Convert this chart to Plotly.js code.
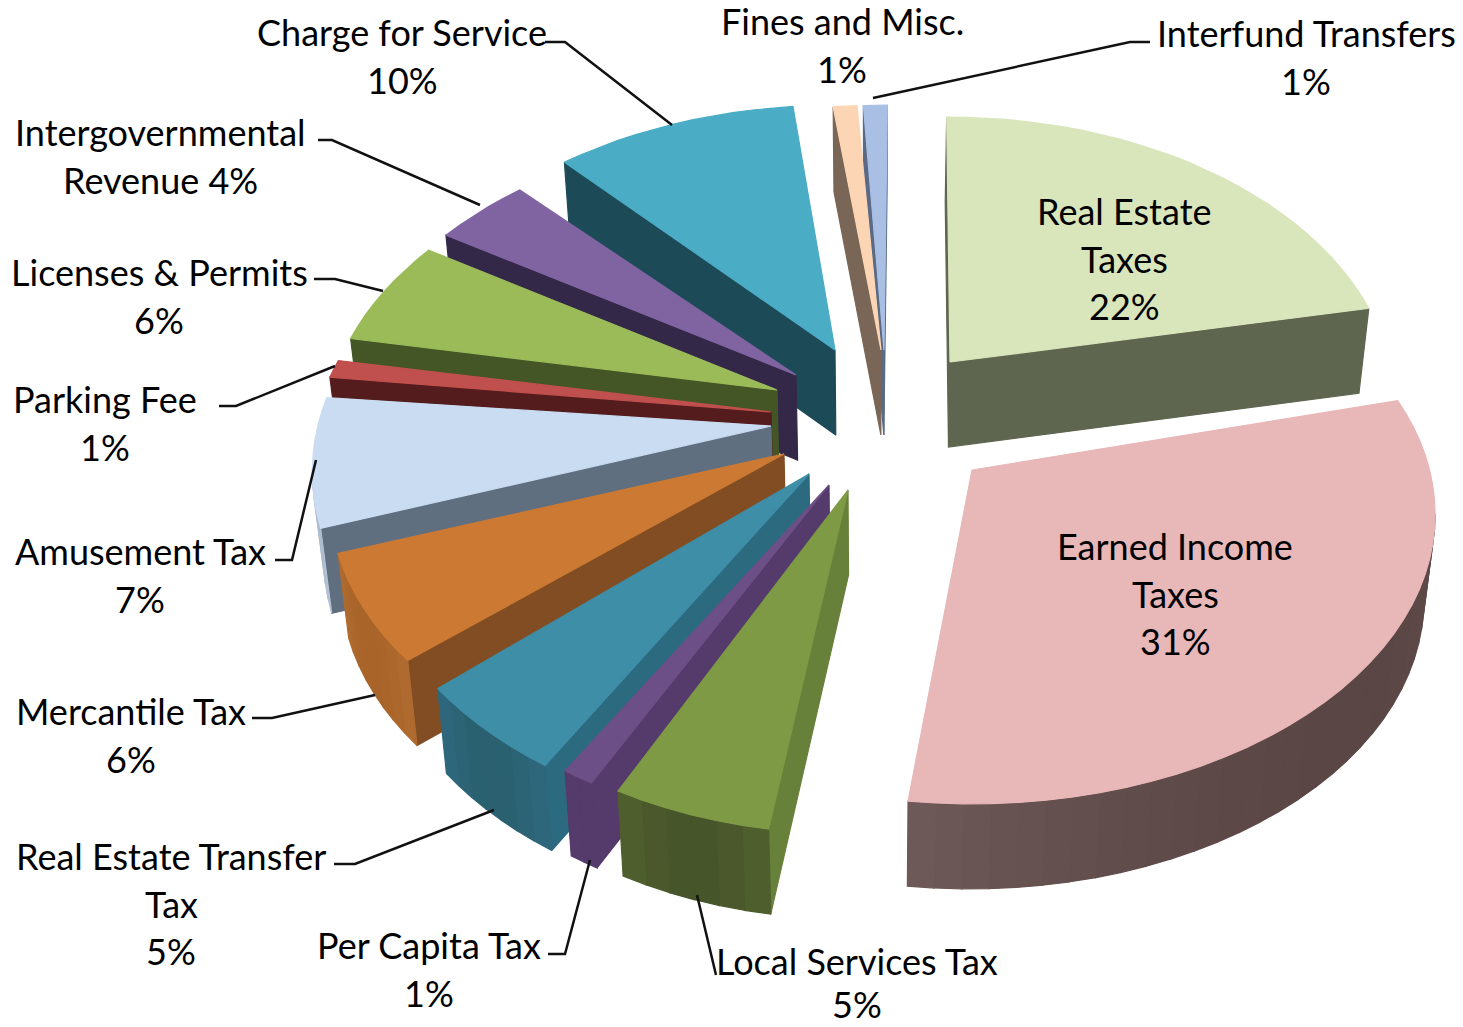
<!DOCTYPE html>
<html><head><meta charset="utf-8">
<script src="https://cdn.plot.ly/plotly-3.0.1.min.js"></script>
<style>html,body{margin:0;padding:0;background:#fff}#c{width:1463px;height:1027px}</style></head>
<body><div id="c"></div>
<script>
// Data
const categories=["Real Estate Taxes","Earned Income Taxes","Local Services Tax","Per Capita Tax","Real Estate Transfer Tax","Mercantile Tax","Amusement Tax","Parking Fee","Licenses & Permits","Intergovernmental Revenue","Charge for Service","Fines and Misc.","Interfund Transfers"];
const shares=[22,31,5,1,5,6,7,1,6,4,10,1,1];
// Look of each slice
const topColors=["#d9e5bb","#e8b7b7","#7e9a45","#6d4f87","#3e8ea8","#cc7a33","#c9dcf2","#c0504d","#9bbb59","#8064a2","#4bacc6","#fcd5b5","#a9bfe4"];
const radialWall=["#5f6650","#5c4745","#67803a","#553a6c","#2c6a80","#824d22","#606f80","#541c1c","#455626","#342848","#1d4a57","#7a6656","#5a6a85"];
const arcWall=["#5f6650","#5a4644","#47552a","#553a6c","#2a6070","#a9642a","#aebcce","#541c1c","#455626","#342848","#1d4a57","#7a6656","#5a6a85"];
const arcWallEdge=["#5f6650","#6e5a58","#52622e","#553a6c","#2f6a80","#b06c30","#b6c4d6","#541c1c","#455626","#342848","#1d4a57","#7a6656","#5a6a85"];
// Exploded apex of each slice on the page, and how it sits in the view
const apexX=[950,972,848,829,809,784,771,771,777,796,835,881,884];
const apexY=[362,470,490,485,474,454,426,412,390,375,350,350,350];
const tilt=[-0.5,-4,-2,-1,-1,-1.5,-1.5,0,0,0,1,0,0.5];
const scaleX=[1,1.04,1,1,1,1.02,1.03,1.03,1.015,1.02,1.02,1,1];
const scaleY=[1,1,1.03,1.03,1.05,1,1.03,1,1,1,1,1,1];
const drawOrder=[0,12,11,10,9,8,7,6,5,4,3,2,1];
const R=440,K=0.154,S=0.642,DEPTH=85,LOWER=0.98,CX=875;
// Label lines: [x, first line centre y, line step, lines]
const labels=[
[1124,211,47.5,["Real Estate","Taxes","22%"]],
[1175,546,47.5,["Earned Income","Taxes","31%"]],
[857,961,43,["Local Services Tax","5%"]],
[429,945,47.5,["Per Capita Tax","1%"]],
[171,856,47.5,["Real Estate Transfer","Tax","5%"]],
[131,711,47.5,["Mercantile Tax","6%"]],
[140,551,47.5,["Amusement Tax","7%"]],
[105,399,47.5,["Parking Fee","1%"]],
[159,272,47.5,["Licenses & Permits","6%"]],
[160,132,47.5,["Intergovernmental","Revenue 4%"]],
[402,32,47.5,["Charge for Service","10%"]],
[842,21,47.5,["Fines and Misc.","1%"]],
[1306,33,47.5,["Interfund Transfers","1%"]]
];
const leaders=[
"M545,42 L565,42 L672,125","M318,140 L332,140 L480,205","M314,279 L335,279 L383,291","M219,406 L236,406 L335,366",
"M275,560 L292,560 L316,460","M252,718 L272,718 L375,695","M334,864 L355,864 L494,810","M548,954 L565,954 L590,860",
"M697,895 L716,975","M873,98 L1130,42 L1150,42"];

function project(i,t){
  const a=(t+tilt[i])*Math.PI/180,x=Math.sin(a),y=Math.cos(a),d=1+K*y;
  return [apexX[i]+R*scaleX[i]*x/d, apexY[i]-R*S*scaleY[i]*y/d];
}
function poly(pts,color){
  return {type:"scatter",mode:"lines",x:pts.map(p=>p[0]).concat(pts[0][0]),y:pts.map(p=>p[1]).concat(pts[0][1]),
    fill:"toself",fillcolor:color,line:{color:color,width:1.2},hoverinfo:"skip",showlegend:false};
}
function mix(c1,c2,u){
  const h=(c,k)=>parseInt(c.substr(1+2*k,2),16);
  return "rgb("+[0,1,2].map(k=>Math.round(h(c1,k)+(h(c2,k)-h(c1,k))*u)).join(",")+")";
}
const total=shares.reduce((a,b)=>a+b,0);
let cum=0;const spans=shares.map(v=>{const s=[cum/total*360,(cum+v)/total*360];cum+=v;return s;});
const lower=p=>[CX+(p[0]-CX)*LOWER,p[1]+DEPTH];
const traces=[];
drawOrder.forEach(i=>{
  const [t0,t1]=spans[i],n=Math.max(2,Math.ceil((t1-t0)/3));
  const arc=[];for(let j=0;j<=n;j++)arc.push(project(i,t0+(t1-t0)*j/n));
  const apex=[apexX[i],apexY[i]];
  const wall=(a,b,c)=>{ if(b[0]<a[0]) traces.push(poly([a,b,lower(b),lower(a)],c)); };
  wall(apex,arc[0],radialWall[i]);
  wall(arc[n],apex,radialWall[i]);
  for(let j=0;j<n;j++){const u=(j+0.5)/n,e=Math.pow(2*u-1,2); wall(arc[j],arc[j+1],mix(arcWall[i],arcWallEdge[i],e));}
  traces.push(Object.assign(poly([apex].concat(arc),topColors[i]),{name:categories[i]}));
});
const ann=[];
labels.forEach(([x,y,step,lines])=>lines.forEach((t,k)=>ann.push({x:x,y:y+k*step,xref:"x",yref:"y",text:t,showarrow:false,xanchor:"center",yanchor:"middle",font:{family:"Lato, sans-serif",size:36,color:"#000"}})));
const layout={width:1463,height:1027,margin:{l:0,r:0,t:0,b:0},paper_bgcolor:"#fff",plot_bgcolor:"#fff",showlegend:false,
  xaxis:{range:[0,1463],visible:false,fixedrange:true},yaxis:{range:[1027,0],visible:false,fixedrange:true},
  annotations:ann,shapes:leaders.map(p=>({type:"path",path:p,xref:"x",yref:"y",line:{color:"#111",width:2.5}}))};
Plotly.newPlot("c",traces,layout,{displayModeBar:false,staticPlot:true});
</script></body></html>
